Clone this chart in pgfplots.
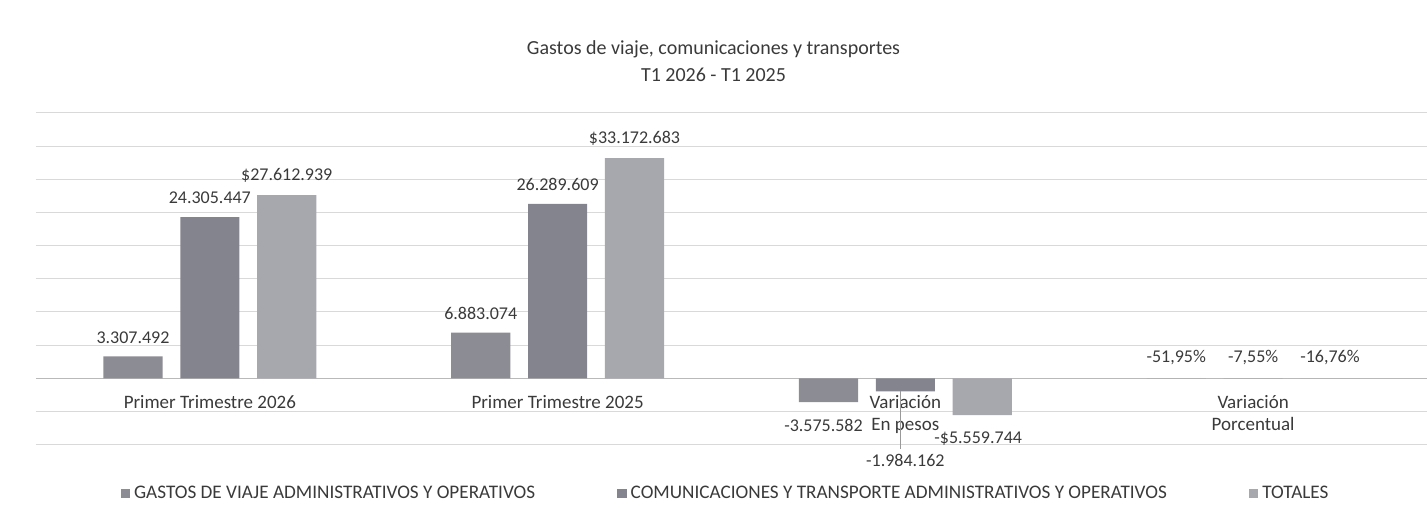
\documentclass[border=0pt]{standalone}
\usepackage{pgfplots}
\pgfplotsset{compat=1.18}
\usepackage{pgfplotstable}
\usepackage{fontspec}
\setmainfont{Carlito}
\definecolor{cA}{HTML}{8C8C94}
\definecolor{cB}{HTML}{84848E}
\definecolor{cC}{HTML}{A7A7AE}
\definecolor{txt}{HTML}{3A3A3A}
\newcommand{\lbl}{\fontsize{9}{10}\selectfont}
\newcommand{\cat}{\fontsize{9.5}{11}\selectfont}

\pgfplotstableread{
x y label
0 3.307492 3.307.492
1 6.883074 6.883.074
2 -3.575582 \relax
3 -0.0000005195 -51,95\%
}\gastos
\pgfplotstableread{
x y label
0 24.305447 24.305.447
1 26.289609 26.289.609
2 -1.984162 \relax
3 -0.0000000755 -7,55\%
}\comunic
\pgfplotstableread{
x y label
0 27.612939 \$27.612.939
1 33.172683 \$33.172.683
2 -5.559744 \relax
3 -0.0000001676 -16,76\%
}\totales

\begin{document}
\begin{tikzpicture}[every node/.style={text=txt}]
\begin{axis}[
  ybar, clip=false,
  scale only axis, width=696pt, height=166pt,
  xmin=-0.5, xmax=3.5, ymin=-10, ymax=40,
  bar width=0.17,
  axis x line=middle, axis y line=left,
  x axis line style={-, draw=gray!55, line width=0.5pt},
  y axis line style={draw=none},
  ytick={-10,-5,...,40}, yticklabels={}, ytick style={draw=none},
  ymajorgrids, grid style={gray!30, line width=0.5pt},
  xtick={0,1,2,3},
  xticklabels={Primer Trimestre 2026, Primer Trimestre 2025, {Variación\\En pesos}, {Variación\\Porcentual}},
  xtick style={draw=none},
  xticklabel style={align=center, font=\cat, text=txt, yshift=-3pt},
  point meta=explicit symbolic,
  nodes near coords={\pgfplotspointmeta},
  every node near coord/.append style={anchor=south, yshift=3pt, font=\lbl, text=txt},
  every axis title/.style={at={(0.5,1)}, anchor=south, yshift=12pt, xshift=-9pt,
     align=center, font=\fontsize{10}{13.5}\selectfont, text=txt},
  title={Gastos de viaje, comunicaciones y transportes\\T1 2026 - T1 2025},
  legend columns=3,
  legend style={at={(0.5,0)}, anchor=center, yshift=-24.5pt, xshift=-2.5pt,
     draw=none, font=\fontsize{9.6}{10}\selectfont, text=txt,
     /tikz/every even column/.append style={column sep=39pt}},
  legend image code/.code={\fill[#1] (0pt,-2.4pt) rectangle (4.8pt,2.4pt);},
]
\addplot[draw=none, fill=cA, bar shift=-0.221] table[x=x, y=y, meta=label] {\gastos};
\addlegendentry{GASTOS DE VIAJE ADMINISTRATIVOS Y OPERATIVOS}
\addplot[draw=none, fill=cB, bar shift=0] table[x=x, y=y, meta=label] {\comunic};
\addlegendentry{COMUNICACIONES Y TRANSPORTE ADMINISTRATIVOS Y OPERATIVOS}
\addplot[draw=none, fill=cC, bar shift=0.221] table[x=x, y=y, meta=label] {\totales};
\addlegendentry{TOTALES}
\node[font=\lbl, anchor=north, yshift=-5pt, xshift=-2.5pt] at (axis cs:1.779,-3.575582) {-3.575.582};
\draw[gray!80, line width=0.6pt] (axis cs:1.985,-1.984162) -- ([yshift=-29pt]axis cs:1.985,-1.984162);
\node[font=\lbl, anchor=north, yshift=-28pt] at (axis cs:2,-1.984162) {-1.984.162};
\node[font=\lbl, anchor=north, yshift=-5pt, xshift=-2pt] at (axis cs:2.221,-5.559744) {-\$5.559.744};
\coordinate (sw) at (rel axis cs:0,0);
\coordinate (ne) at (rel axis cs:1,1);
\end{axis}
\pgfresetboundingbox
\path[use as bounding box] ([shift={(-18pt,-38.5pt)}]sw) rectangle ([shift={(0pt,56.5pt)}]ne);
\end{tikzpicture}
\end{document}
